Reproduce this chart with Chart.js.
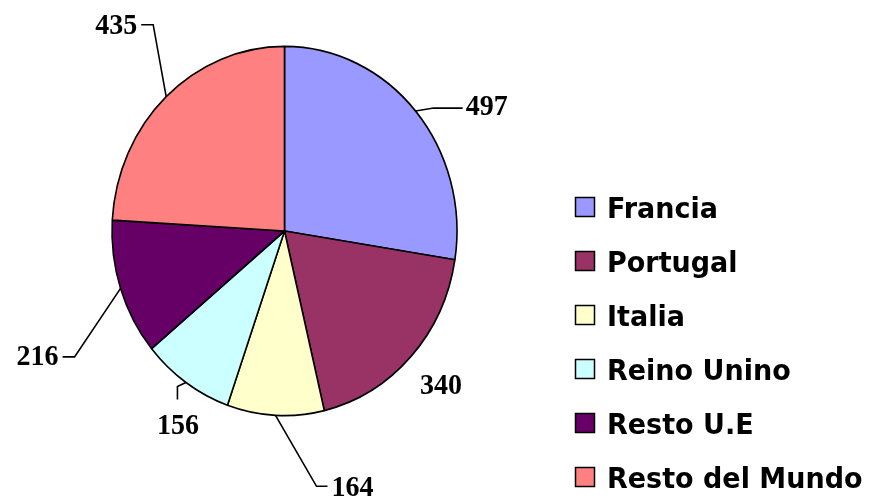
<!DOCTYPE html>
<html>
<head>
<meta charset="utf-8">
<script src="https://cdn.jsdelivr.net/npm/chart.js@4/dist/chart.umd.min.js"></script>
<style>
html,body{margin:0;padding:0;background:#fff;}
canvas{display:block;}
</style>
</head>
<body>
<canvas id="c" width="880" height="500"></canvas>
<script>
// ---- data ----
const categories = ["Francia", "Portugal", "Italia", "Reino Unino", "Resto U.E", "Resto del Mundo"];
const values = [497, 340, 164, 156, 216, 435];
const colors = ["#9999FF", "#993366", "#FFFFCC", "#CCFFFF", "#660066", "#FF8080"];

// ---- styling / layout (not data) ----
const SY = 1.07; // vertical stretch of the reference picture
const VALUE_FONT = "bold 28px 'Liberation Serif', 'Times New Roman', serif";
const LEGEND_FONT = "bold 27px 'DejaVu Sans', Verdana, sans-serif";
// leader line offsets relative to each slice's mid-edge anchor
const labelLayout = [
  {pts: [[18, -3], [47, -3]], text: [50, 4], align: "left"},
  {pts: [], text: [30, 38], align: "center"},
  {pts: [[41, 71], [52, 71]], text: [56, 81], align: "left"},
  {pts: [[-8.5, 4], [-8.5, 17]], text: [-8, 52], align: "center"},
  {pts: [[-46, 68.5], [-58, 68.5]], text: [-62, 76.5], align: "right"},
  {pts: [[-13, -72], [-25, -72]], text: [-29, -63], align: "right"}
];
const legendLayout = {x: 575, firstCenter: 207, step: 54, box: 20, textX: 607};

function drawStretchedText(ctx, txt, x, y, align, font) {
  ctx.save();
  ctx.translate(x, y);
  ctx.scale(1, SY);
  ctx.font = font;
  ctx.textAlign = align;
  ctx.textBaseline = "alphabetic";
  ctx.fillStyle = "#000";
  ctx.fillText(txt, 0, 0);
  ctx.restore();
}

const stretchPlugin = {
  id: "stretch",
  beforeDatasetsDraw(chart) {
    const ctx = chart.ctx;
    const a = chart.chartArea;
    const cy = (a.top + a.bottom) / 2;
    ctx.save();
    ctx.translate(0, cy);
    ctx.scale(1, SY);
    ctx.translate(0, -cy);
  },
  afterDatasetsDraw(chart) {
    chart.ctx.restore();
  }
};

const labelPlugin = {
  id: "labels",
  afterDraw(chart) {
    const ctx = chart.ctx;
    const meta = chart.getDatasetMeta(0);
    meta.data.forEach((arc, i) => {
      const mid = (arc.startAngle + arc.endAngle) / 2;
      const ax = arc.x + arc.outerRadius * Math.cos(mid);
      const ay = arc.y + arc.outerRadius * Math.sin(mid) * SY;
      const L = labelLayout[i];
      if (L.pts.length) {
        ctx.save();
        ctx.strokeStyle = "#000";
        ctx.lineWidth = 1.6;
        ctx.beginPath();
        ctx.moveTo(ax, ay);
        L.pts.forEach(p => ctx.lineTo(ax + p[0], ay + p[1]));
        ctx.stroke();
        ctx.restore();
      }
      drawStretchedText(ctx, String(values[i]), ax + L.text[0], ay + L.text[1], L.align, VALUE_FONT);
    });
    // legend
    categories.forEach((name, i) => {
      const cy = legendLayout.firstCenter + i * legendLayout.step;
      const b = legendLayout.box;
      ctx.save();
      ctx.fillStyle = colors[i];
      ctx.fillRect(legendLayout.x, cy - b / 2, b, b);
      ctx.strokeStyle = "#000";
      ctx.lineWidth = 1.5;
      ctx.strokeRect(legendLayout.x + 0.5, cy - b / 2 + 0.5, b - 1, b - 1);
      ctx.restore();
      drawStretchedText(ctx, name, legendLayout.textX, cy + 10.5, "left", LEGEND_FONT);
    });
  }
};

new Chart(document.getElementById("c"), {
  type: "pie",
  data: {
    labels: categories,
    datasets: [{
      data: values,
      backgroundColor: colors,
      borderColor: "#000",
      borderWidth: 1.6,
      radius: 172.5,
      clip: false
    }]
  },
  options: {
    responsive: false,
    animation: false,
    events: [],
    layout: {padding: {left: 112, right: 423, top: 58, bottom: 96}},
    plugins: {legend: {display: false}, tooltip: {enabled: false}}
  },
  plugins: [stretchPlugin, labelPlugin]
});
</script>
</body>
</html>
